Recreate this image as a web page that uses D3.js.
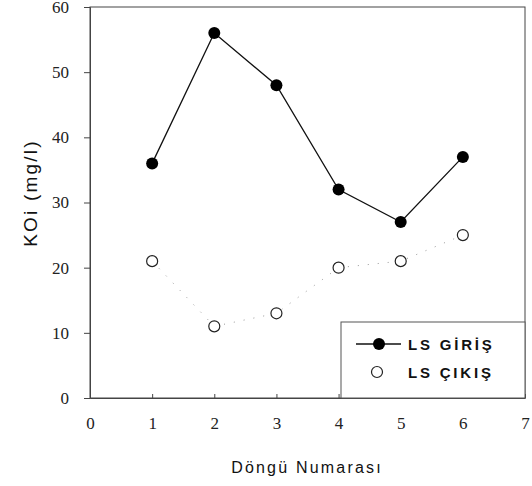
<!DOCTYPE html>
<html><head><meta charset="utf-8">
<script src="https://cdn.jsdelivr.net/npm/d3@7"></script>
<style>body{margin:0;background:#fff}svg{display:block}</style>
</head><body>
<svg id="c" width="532" height="486"></svg>
<script>
const cycles = [1, 2, 3, 4, 5, 6];
const girisValues = [36, 56, 48, 32, 27, 37];
const cikisValues = [21, 11, 13, 20, 21, 25];
const xTicks = [0, 1, 2, 3, 4, 5, 6, 7];
const yTicks = [0, 10, 20, 30, 40, 50, 60];
const seriesNames = ["LS GİRİŞ", "LS ÇIKIŞ"];

const svg = d3.select("#c");
const x = d3.scaleLinear().domain([0, 7]).range([90, 525]);
const y = d3.scaleLinear().domain([0, 60]).range([398, 7]);

// frame
svg.append("rect").attr("x", 90).attr("y", 7).attr("width", 435).attr("height", 391)
  .attr("fill", "none").attr("stroke", "#444").attr("stroke-width", 1);

const yAxis = svg.append("g").attr("transform", "translate(90,0)")
  .call(d3.axisLeft(y).tickValues(yTicks).tickSize(6).tickPadding(15).tickFormat(d3.format("d")));
yAxis.select(".domain").attr("stroke", "#444");
yAxis.selectAll("line").attr("stroke", "#444");
yAxis.selectAll("text").attr("font-family", "Liberation Serif, Times New Roman, serif")
  .attr("font-size", 17).attr("fill", "#222");

const xAxis = svg.append("g").attr("transform", "translate(0,398)")
  .call(d3.axisBottom(x).tickValues(xTicks).tickSizeInner(-4).tickSizeOuter(0).tickPadding(19).tickFormat(d3.format("d")));
xAxis.select(".domain").attr("stroke", "#444");
xAxis.selectAll("line").attr("stroke", "#444");
xAxis.selectAll("text").attr("font-family", "Liberation Serif, Times New Roman, serif")
  .attr("font-size", 17).attr("fill", "#222");

// axis titles
svg.append("text").attr("transform", "translate(37,193) rotate(-90)")
  .attr("text-anchor", "middle").attr("font-family", "Liberation Sans, Arial, sans-serif")
  .attr("font-size", 19).attr("letter-spacing", 2.2).attr("fill", "#111").text("KOi (mg/l)");
svg.append("text").attr("x", 307).attr("y", 473).attr("text-anchor", "middle")
  .attr("font-family", "Liberation Sans, Arial, sans-serif").attr("font-size", 16)
  .attr("letter-spacing", 2.2).attr("fill", "#111").text("Döngü Numarası");

const line = d3.line().x((d, i) => x(cycles[i])).y(d => y(d));

// ÇIKIŞ dotted line
svg.append("path").datum(cikisValues).attr("d", line).attr("fill", "none")
  .attr("stroke", "#999").attr("stroke-width", 1).attr("stroke-dasharray", "1,9");
svg.selectAll(".cik").data(cikisValues).enter().append("circle")
  .attr("cx", (d, i) => x(cycles[i])).attr("cy", d => y(d)).attr("r", 5.5)
  .attr("fill", "#fff").attr("stroke", "#222").attr("stroke-width", 1.2);

// GİRİŞ solid line
svg.append("path").datum(girisValues).attr("d", line).attr("fill", "none")
  .attr("stroke", "#111").attr("stroke-width", 1.3);
svg.selectAll(".gir").data(girisValues).enter().append("circle")
  .attr("cx", (d, i) => x(cycles[i])).attr("cy", d => y(d)).attr("r", 6)
  .attr("fill", "#000");

// legend
const lg = svg.append("g");
lg.append("rect").attr("x", 341).attr("y", 322).attr("width", 184).attr("height", 76)
  .attr("fill", "#fff").attr("stroke", "#555").attr("stroke-width", 1);
lg.append("line").attr("x1", 356).attr("x2", 401).attr("y1", 344).attr("y2", 344)
  .attr("stroke", "#111").attr("stroke-width", 1.3);
lg.append("circle").attr("cx", 379).attr("cy", 344).attr("r", 6).attr("fill", "#000");
lg.append("circle").attr("cx", 377).attr("cy", 372).attr("r", 5.5).attr("fill", "#fff")
  .attr("stroke", "#222").attr("stroke-width", 1.2);
lg.selectAll(".lt").data(seriesNames).enter().append("text")
  .attr("x", 408).attr("y", (d, i) => 350 + i * 28)
  .attr("font-family", "Liberation Sans, Arial, sans-serif").attr("font-size", 15)
  .attr("font-weight", "bold").attr("letter-spacing", 2.8).attr("fill", "#111").text(d => d);
</script>
</body></html>
